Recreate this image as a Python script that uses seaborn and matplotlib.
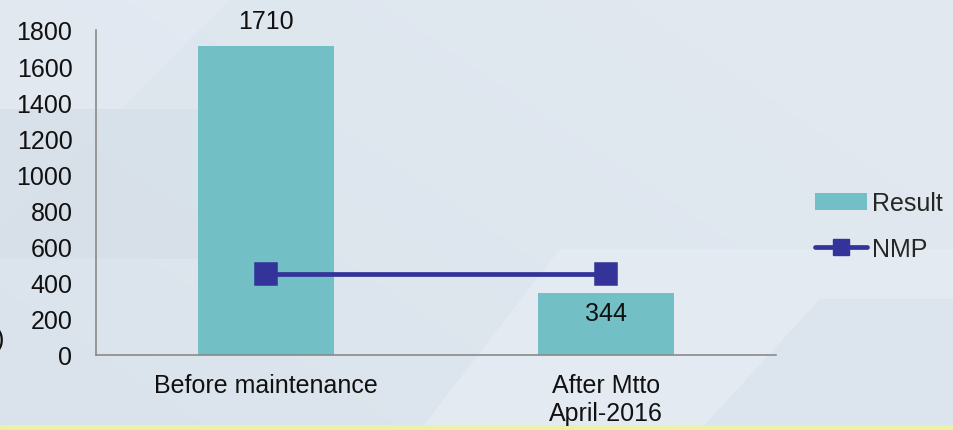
import matplotlib
matplotlib.use("Agg")
import matplotlib.pyplot as plt
from matplotlib.patches import Polygon, Patch
from matplotlib.lines import Line2D
import numpy as np
import pandas as pd
import seaborn as sns

categories = ["Before maintenance", "After Mtto\nApril-2016"]
result = [1710, 344]
nmp = [450, 450]
yticks = [0, 200, 400, 600, 800, 1000, 1200, 1400, 1600, 1800]

sns.set_style("white")
plt.rcParams["font.family"] = ["Liberation Sans", "DejaVu Sans"]

FS = 18
W, H = 954, 431
fig = plt.figure(figsize=(W / 100, H / 100), dpi=100)

# background
bg = fig.add_axes([0, 0, 1, 1], zorder=-10)
bg.set_xlim(0, W)
bg.set_ylim(H, 0)
bg.axis("off")
yy, xx = np.mgrid[0:H, 0:W]
grad = 0.5 + 0.5 * (xx / W) * 0.6 - 0.2 * (yy / H)
c1 = np.array([0.835, 0.875, 0.910])
c2 = np.array([0.900, 0.925, 0.955])
img = c1[None, None, :] * (1 - grad[..., None]) + c2[None, None, :] * grad[..., None]
bg.imshow(np.clip(img, 0, 1), extent=[0, W, H, 0], aspect="auto")
shapes = [
    ([(0, 0), (230, 0), (0, 230)], "#e4eaf2"),
    ([(0, 110), (330, 110), (200, 260), (0, 260)], "#d6e0e9"),
    ([(420, 431), (560, 250), (954, 250), (954, 431)], "#e6ecf3"),
    ([(640, 0), (954, 0), (954, 200), (820, 200)], "#e2e8f0"),
    ([(700, 431), (820, 300), (954, 300), (954, 431)], "#dbe3ec"),
]
for pts, col in shapes:
    bg.add_patch(Polygon(pts, closed=True, facecolor=col, edgecolor="none", alpha=0.8))
bg.add_patch(Polygon([(0, 426), (W, 426), (W, H), (0, H)], closed=True,
                     facecolor="#e9f2a6", edgecolor="none"))

ax = fig.add_axes([96 / W, (H - 356) / H, (776 - 96) / W, (356 - 31) / H])
ax.patch.set_alpha(0)

df = pd.DataFrame({"cat": categories, "Result": result, "NMP": nmp})
sns.barplot(data=df, x="cat", y="Result", color="#72bfc5", saturation=1,
            width=0.4, ax=ax, zorder=2, linewidth=0, edgecolor="none")
sns.pointplot(data=df, x="cat", y="NMP", color="#333399", markers="s",
              markersize=14, linewidth=3.4, ax=ax, zorder=3)

ax.set_ylim(0, 1800)
ax.set_xlim(-0.5, 1.5)
ax.set_yticks(yticks)
ax.set_yticklabels([str(t) for t in yticks], fontsize=FS, color="#111111")
ax.tick_params(axis="y", length=0, pad=17)
ax.tick_params(axis="x", length=0, pad=13, labelsize=FS, labelcolor="#111111")
ax.set_xlabel("")
ax.set_ylabel("")
for s in ["top", "right"]:
    ax.spines[s].set_visible(False)
for s in ["left", "bottom"]:
    ax.spines[s].set_color("#8a8a8a")
    ax.spines[s].set_linewidth(1.2)

# data labels
ax.text(0, result[0] + 75, f"{result[0]}", ha="center", va="bottom", fontsize=FS, color="#111111")
ax.text(1, result[1] - 45, f"{result[1]}", ha="center", va="top", fontsize=FS, color="#111111")

handles = [Patch(facecolor="#72bfc5", edgecolor="none"),
           Line2D([0], [0], color="#333399", lw=3.4, marker="s", markersize=11)]
leg = fig.legend(handles, ["Result", "NMP"], loc="center left",
                 bbox_to_anchor=(815 / W, 1 - 227 / H), frameon=False,
                 borderpad=0, borderaxespad=0,
                 fontsize=FS, handlelength=2.1, handletextpad=0.2, labelspacing=0.85)

fig.text(-0.004, 1 - 340 / H, ")", fontsize=FS, ha="left", va="center", color="#111111")

fig.savefig("out.png", dpi=100)
